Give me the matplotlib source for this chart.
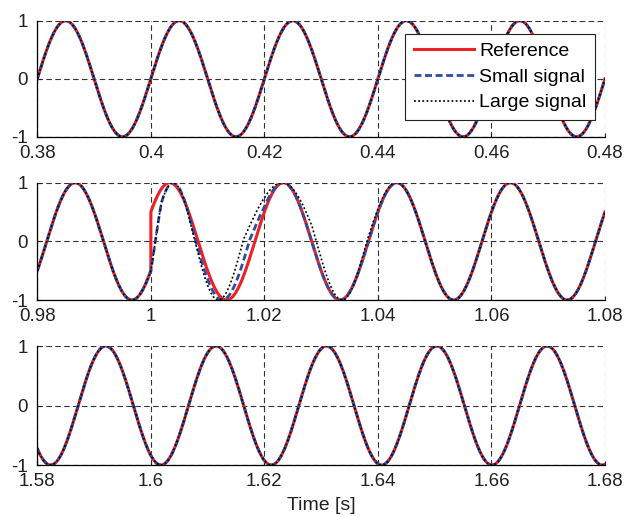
import numpy as np
import matplotlib
matplotlib.use("Agg")
import matplotlib.pyplot as plt

plt.rcParams["font.family"] = ["Liberation Sans", "DejaVu Sans"]
plt.rcParams["axes.unicode_minus"] = False

# ---------- data ----------
panel_xlim = [(0.38, 0.48), (0.98, 1.08), (1.58, 1.68)]
panel_xticks = [
    [0.38, 0.40, 0.42, 0.44, 0.46, 0.48],
    [0.98, 1.00, 1.02, 1.04, 1.06, 1.08],
    [1.58, 1.60, 1.62, 1.64, 1.66, 1.68],
]
y_ticks = [-1, 0, 1]

# sinusoid per panel: frequency [Hz], time of a rising zero crossing [s]
wave_freq = [50.0, 50.0, 51.45]
wave_zero = [0.38, 0.99833, 1.5872]

# panel 2: reference phase steps at t_step; before it the phase is behind by
# step_deg. Tracking phase error (deg) of the two models after the step [ms].
t_step = 1.0
step_deg = 60.0
small_t_ms = [0.0, 0.8, 1.9, 4.0, 7.7, 13.0, 17.4, 20.0, 23.0, 40.0]
small_err = [60, 44, 22, 10, -7, -14, -18, -6, 0, 0]
large_t_ms = [0.0, 0.8, 1.9, 4.0, 7.5, 12.2, 16.3, 20.0, 23.4, 28.4, 33.0, 38.0, 45.0, 80.0]
large_err = [60, 44, 22, 10, -9, -27, -38, -18, -2, 16, 8, -5, 0, 0]

series_labels = ["Reference", "Small signal", "Large signal"]
# ------------------------------------------------

RED = "#ee2024"
BLUE = "#2f4d9f"

fig = plt.figure(figsize=(6.28, 5.16), dpi=100)
boxes = [
    [0.0594, 0.735, 0.904, 0.2248],
    [0.0594, 0.4186, 0.904, 0.2273],
    [0.0594, 0.0988, 0.904, 0.2306],
]


def wave(t, f, t0, err_deg):
    return np.sin(2 * np.pi * f * (t - t0) - np.deg2rad(err_deg))


axes = []
for i in range(3):
    ax = fig.add_axes(boxes[i])
    x0, x1 = panel_xlim[i]
    t = np.linspace(x0, x1, 2001)
    f, tz = wave_freq[i], wave_zero[i]

    if i == 1:
        tb = t[t < t_step]
        ta = t[t >= t_step]
        tb = np.append(tb, t_step)
        ref_t = np.concatenate([tb, ta])
        ref_y = np.concatenate([wave(tb, f, tz, step_deg), wave(ta, f, tz, 0.0)])
        ms = (t - t_step) * 1000
        small_y = wave(t, f, tz, np.interp(ms, small_t_ms, small_err))
        large_y = wave(t, f, tz, np.interp(ms, large_t_ms, large_err))
    else:
        ref_t = t
        ref_y = wave(t, f, tz, 0.0)
        small_y = ref_y
        large_y = ref_y

    ax.plot(ref_t, ref_y, color=RED, lw=2.2, label=series_labels[0], zorder=3)
    ax.plot(t, small_y, color=BLUE, lw=2.0, dashes=(2.5, 1.3), label=series_labels[1], zorder=4)
    ax.plot(t, large_y, color="black", lw=1.2, dashes=(1.1, 1.4), label=series_labels[2], zorder=5)

    ax.set_xlim(x0, x1)
    ax.set_ylim(-1, 1)
    ax.set_xticks(panel_xticks[i])
    ax.set_xticklabels(["%g" % v for v in panel_xticks[i]])
    ax.set_yticks(y_ticks)
    ax.set_yticklabels([str(v) for v in y_ticks])
    ax.grid(True, color="#333333", lw=0.8, linestyle=(0, (5, 3)))
    ax.set_axisbelow(True)
    for s in ["top", "right"]:
        ax.spines[s].set_visible(False)
    for s in ["left", "bottom"]:
        ax.spines[s].set_linewidth(0.9)
        ax.spines[s].set_zorder(6)
    ax.tick_params(direction="in", length=3, width=0.8, labelsize=13.5,
                   colors="#222222", pad=6)
    ax.tick_params(axis="y", pad=7)
    axes.append(ax)

leg = axes[0].legend(loc="upper right", bbox_to_anchor=(0.982, 0.885),
                     borderaxespad=0, fontsize=14, handlelength=3.1,
                     handletextpad=0.28, labelspacing=0.42, borderpad=0.42,
                     fancybox=False, framealpha=1, edgecolor="#222222")
leg.get_frame().set_linewidth(0.8)
leg.set_zorder(10)

axes[2].set_xlabel("Time [s]", fontsize=14, color="#222222", labelpad=5)

fig.savefig("out.png", dpi=100)
